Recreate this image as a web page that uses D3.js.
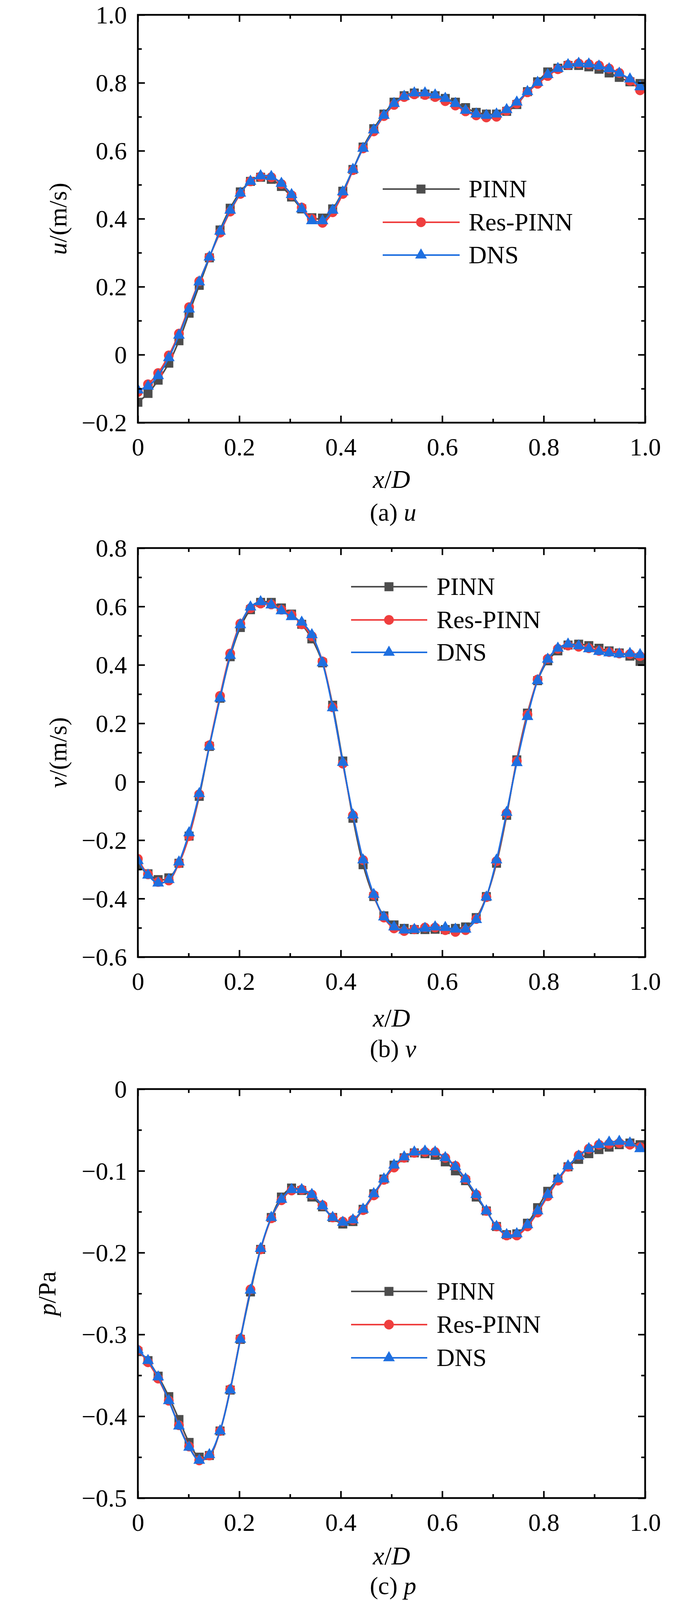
<!DOCTYPE html>
<html>
<head>
<meta charset="utf-8">
<script src="https://cdn.jsdelivr.net/npm/d3@7"></script>
<style>
  body { margin: 0; background: #fff; }
  text { font-family: 'Liberation Serif', 'Times New Roman', serif; fill: #000; }
</style>
</head>
<body>
<script>
// sample positions along x/D
const xs = [0, 0.020, 0.040, 0.061, 0.081, 0.101, 0.121, 0.141, 0.162, 0.182,
  0.202, 0.222, 0.242, 0.263, 0.283, 0.303, 0.323, 0.343, 0.364, 0.384,
  0.404, 0.424, 0.444, 0.465, 0.485, 0.505, 0.525, 0.545, 0.566, 0.586,
  0.606, 0.626, 0.646, 0.667, 0.687, 0.707, 0.727, 0.747, 0.768, 0.788,
  0.808, 0.828, 0.848, 0.869, 0.889, 0.909, 0.929, 0.949, 0.970, 0.990]

// (a) u
const uPINN = [-0.140, -0.114, -0.075, -0.025, 0.041, 0.122, 0.204, 0.285, 0.367, 0.431,
  0.479, 0.510, 0.522, 0.516, 0.495, 0.464, 0.429, 0.403, 0.402, 0.429,
  0.481, 0.545, 0.611, 0.665, 0.708, 0.743, 0.762, 0.770, 0.767, 0.762,
  0.754, 0.743, 0.727, 0.713, 0.708, 0.708, 0.716, 0.736, 0.774, 0.803,
  0.832, 0.843, 0.851, 0.851, 0.847, 0.840, 0.829, 0.816, 0.803, 0.798]
const uRes = [-0.110, -0.087, -0.054, -0.002, 0.062, 0.140, 0.216, 0.287, 0.359, 0.421,
  0.473, 0.510, 0.524, 0.522, 0.502, 0.469, 0.433, 0.400, 0.388, 0.419,
  0.473, 0.543, 0.607, 0.657, 0.702, 0.735, 0.758, 0.766, 0.764, 0.758,
  0.746, 0.733, 0.716, 0.704, 0.698, 0.700, 0.718, 0.739, 0.772, 0.797,
  0.820, 0.840, 0.853, 0.857, 0.855, 0.851, 0.842, 0.829, 0.806, 0.778]
const uDNS = [-0.104, -0.093, -0.062, -0.009, 0.057, 0.134, 0.214, 0.287, 0.363, 0.425,
  0.475, 0.510, 0.526, 0.524, 0.504, 0.471, 0.429, 0.394, 0.394, 0.425,
  0.479, 0.545, 0.607, 0.661, 0.704, 0.739, 0.760, 0.770, 0.770, 0.764,
  0.754, 0.739, 0.719, 0.708, 0.704, 0.708, 0.721, 0.743, 0.774, 0.801,
  0.824, 0.842, 0.853, 0.857, 0.855, 0.849, 0.841, 0.828, 0.811, 0.788]

// (b) v
const vPINN = [-0.285, -0.315, -0.335, -0.329, -0.279, -0.186, -0.050, 0.121, 0.286, 0.428,
  0.528, 0.589, 0.614, 0.614, 0.595, 0.574, 0.539, 0.489, 0.407, 0.262,
  0.071, -0.125, -0.284, -0.393, -0.459, -0.490, -0.502, -0.506, -0.506, -0.505,
  -0.506, -0.502, -0.497, -0.465, -0.393, -0.279, -0.115, 0.075, 0.235, 0.346,
  0.414, 0.448, 0.468, 0.471, 0.466, 0.457, 0.448, 0.441, 0.430, 0.412]
const vRes = [-0.264, -0.317, -0.343, -0.338, -0.279, -0.186, -0.043, 0.125, 0.294, 0.439,
  0.541, 0.594, 0.610, 0.607, 0.589, 0.571, 0.539, 0.498, 0.412, 0.255,
  0.062, -0.115, -0.268, -0.388, -0.465, -0.502, -0.511, -0.505, -0.499, -0.499,
  -0.508, -0.514, -0.508, -0.470, -0.395, -0.272, -0.108, 0.071, 0.230, 0.350,
  0.421, 0.455, 0.466, 0.462, 0.457, 0.448, 0.444, 0.439, 0.437, 0.430]
const vDNS = [-0.270, -0.320, -0.347, -0.335, -0.275, -0.175, -0.041, 0.121, 0.286, 0.432,
  0.537, 0.598, 0.616, 0.605, 0.585, 0.565, 0.546, 0.503, 0.407, 0.253,
  0.066, -0.114, -0.268, -0.386, -0.463, -0.497, -0.508, -0.506, -0.502, -0.497,
  -0.499, -0.505, -0.505, -0.472, -0.395, -0.268, -0.105, 0.065, 0.223, 0.346,
  0.419, 0.457, 0.471, 0.465, 0.455, 0.446, 0.441, 0.437, 0.439, 0.435]

// (c) p
const pPINN = [-0.321, -0.332, -0.351, -0.376, -0.404, -0.432, -0.450, -0.448, -0.418, -0.368,
  -0.306, -0.248, -0.196, -0.157, -0.132, -0.121, -0.124, -0.132, -0.144, -0.157,
  -0.165, -0.162, -0.147, -0.128, -0.110, -0.093, -0.084, -0.078, -0.079, -0.081,
  -0.089, -0.100, -0.112, -0.132, -0.149, -0.168, -0.178, -0.177, -0.164, -0.145,
  -0.125, -0.110, -0.095, -0.086, -0.079, -0.074, -0.071, -0.068, -0.066, -0.068]
const pRes = [-0.319, -0.334, -0.354, -0.381, -0.411, -0.437, -0.454, -0.448, -0.418, -0.367,
  -0.305, -0.245, -0.196, -0.158, -0.136, -0.124, -0.123, -0.129, -0.142, -0.157,
  -0.162, -0.160, -0.148, -0.130, -0.111, -0.096, -0.084, -0.078, -0.077, -0.077,
  -0.084, -0.094, -0.110, -0.129, -0.149, -0.168, -0.179, -0.179, -0.168, -0.151,
  -0.131, -0.112, -0.095, -0.081, -0.073, -0.068, -0.067, -0.066, -0.068, -0.071]
const pDNS = [-0.319, -0.332, -0.352, -0.381, -0.412, -0.438, -0.454, -0.447, -0.418, -0.368,
  -0.306, -0.246, -0.195, -0.157, -0.135, -0.123, -0.123, -0.129, -0.143, -0.157,
  -0.163, -0.160, -0.147, -0.128, -0.110, -0.093, -0.083, -0.077, -0.076, -0.077,
  -0.084, -0.095, -0.110, -0.129, -0.149, -0.168, -0.178, -0.177, -0.166, -0.149,
  -0.129, -0.110, -0.094, -0.082, -0.073, -0.068, -0.065, -0.064, -0.066, -0.073]

// ticks
const xTicks = [0, 0.2, 0.4, 0.6, 0.8, 1.0]
const xTickLabels = ['0', '0.2', '0.4', '0.6', '0.8', '1.0']
const xMinor = [0.1, 0.3, 0.5, 0.7, 0.9]
const uTicks = [-0.2, 0, 0.2, 0.4, 0.6, 0.8, 1.0]
const uTickLabels = ['\u22120.2', '0', '0.2', '0.4', '0.6', '0.8', '1.0']
const uMinor = [-0.1, 0.1, 0.3, 0.5, 0.7, 0.9]
const vTicks = [-0.6, -0.4, -0.2, 0, 0.2, 0.4, 0.6, 0.8]
const vTickLabels = ['\u22120.6', '\u22120.4', '\u22120.2', '0', '0.2', '0.4', '0.6', '0.8']
const vMinor = [-0.5, -0.3, -0.1, 0.1, 0.3, 0.5, 0.7]
const pTicks = [-0.5, -0.4, -0.3, -0.2, -0.1, 0]
const pTickLabels = ['\u22120.5', '\u22120.4', '\u22120.3', '\u22120.2', '\u22120.1', '0']
const pMinor = [-0.45, -0.35, -0.25, -0.15, -0.05]

const seriesNames = ['PINN', 'Res-PINN', 'DNS']
const seriesColors = ['#4d4d4d', '#ef3e3e', '#1e6fe0']
const seriesShapes = [d3.symbolSquare, d3.symbolCircle, d3.symbolTriangle]
const shapeSizes = [530, 490, 390]

const W = 1772, H = 4111
const left = 353, right = 1652
const FS = 64

const panels = [
  { id: 'a', top: 38, bottom: 1082, domain: [-0.2, 1.0], ticks: uTicks, labels: uTickLabels, minor: uMinor,
    data: [uPINN, uRes, uDNS], yName: 'u', yUnit: '/(m/s)', yTitleX: 170, xTitleDy: 167, capDy: 251,
    legend: { x0: 980, x1: 1177, mx: 1078, tx: 1200, rows: [484, 569, 653] } },
  { id: 'b', top: 1403, bottom: 2450, domain: [-0.6, 0.8], ticks: vTicks, labels: vTickLabels, minor: vMinor,
    data: [vPINN, vRes, vDNS], yName: 'v', yUnit: '/(m/s)', yTitleX: 170, xTitleDy: 178, capDy: 256,
    legend: { x0: 899, x1: 1094, mx: 996, tx: 1118, rows: [1502, 1587, 1670] } },
  { id: 'c', top: 2788, bottom: 3835, domain: [-0.5, 0], ticks: pTicks, labels: pTickLabels, minor: pMinor,
    data: [pPINN, pRes, pDNS], yName: 'p', yUnit: '/Pa', yTitleX: 142, xTitleDy: 170, capDy: 246,
    legend: { x0: 899, x1: 1094, mx: 996, tx: 1118, rows: [3306, 3391, 3476] } }
]

const svg = d3.select('body').append('svg')
  .attr('width', W).attr('height', H)
svg.append('rect').attr('width', W).attr('height', H).attr('fill', '#fff')

const x = d3.scaleLinear().domain([0, 1]).range([left, right])

panels.forEach(p => {
  const y = d3.scaleLinear().domain(p.domain).range([p.bottom, p.top])
  const g = svg.append('g').attr('class', 'panel-' + p.id)

  g.append('clipPath').attr('id', 'clip-' + p.id)
    .append('rect')
    .attr('x', left).attr('y', p.top)
    .attr('width', right - left).attr('height', p.bottom - p.top)

  const plot = g.append('g').attr('clip-path', 'url(#clip-' + p.id + ')')
  const line = d3.line()
    .x((d, i) => x(xs[i]))
    .y(d => y(d))
    .curve(d3.curveCatmullRom.alpha(0.5))

  p.data.forEach((vals, k) => {
    plot.append('path')
      .attr('d', line(vals))
      .attr('fill', 'none')
      .attr('stroke', seriesColors[k])
      .attr('stroke-width', 4)
    plot.selectAll('.m' + k)
      .data(vals)
      .enter()
      .append('path')
      .attr('class', 'm' + k)
      .attr('d', d3.symbol().type(seriesShapes[k]).size(shapeSizes[k]))
      .attr('transform', (d, i) => 'translate(' + x(xs[i]) + ',' + y(d) + ')')
      .attr('fill', seriesColors[k])
  })

  // axes, ticks pointing inward on all four sides
  const addAxis = (axis, tx, ty, showLabels) => {
    const a = g.append('g')
      .attr('transform', 'translate(' + tx + ',' + ty + ')')
      .call(axis)
    a.select('.domain').remove()
    a.selectAll('.tick line').attr('stroke', '#000').attr('stroke-width', 4)
    if (!showLabels) a.selectAll('.tick text').remove()
    return a
  }

  const yl = addAxis(d3.axisLeft(y).tickValues(p.ticks).tickSize(-18).tickPadding(28)
    .tickFormat((d, i) => p.labels[i]), left, 0, true)
  yl.selectAll('.tick text').attr('font-size', FS).attr('dy', '0.34em')
    .style('font-family', "'Liberation Serif', 'Times New Roman', serif")
  addAxis(d3.axisLeft(y).tickValues(p.minor).tickSize(-10), left, 0, false)
  addAxis(d3.axisRight(y).tickValues(p.ticks).tickSize(-18), right, 0, false)
  addAxis(d3.axisRight(y).tickValues(p.minor).tickSize(-10), right, 0, false)

  const xb = addAxis(d3.axisBottom(x).tickValues(xTicks).tickSize(-18).tickPadding(39)
    .tickFormat((d, i) => xTickLabels[i]), 0, p.bottom, true)
  xb.selectAll('.tick text').attr('font-size', FS)
    .style('font-family', "'Liberation Serif', 'Times New Roman', serif")
  addAxis(d3.axisBottom(x).tickValues(xMinor).tickSize(-10), 0, p.bottom, false)
  addAxis(d3.axisTop(x).tickValues(xTicks).tickSize(-18), 0, p.top, false)
  addAxis(d3.axisTop(x).tickValues(xMinor).tickSize(-10), 0, p.top, false)

  g.append('rect')
    .attr('x', left).attr('y', p.top)
    .attr('width', right - left).attr('height', p.bottom - p.top)
    .attr('fill', 'none').attr('stroke', '#000').attr('stroke-width', 4.5)

  // axis titles
  const cx = (left + right) / 2
  const xt = g.append('text')
    .attr('x', cx).attr('y', p.bottom + p.xTitleDy)
    .attr('text-anchor', 'middle').attr('font-size', 66)
  xt.append('tspan').attr('font-style', 'italic').text('x')
  xt.append('tspan').text('/')
  xt.append('tspan').attr('font-style', 'italic').text('D')

  const cy = (p.top + p.bottom) / 2
  const yt = g.append('text')
    .attr('transform', 'translate(' + p.yTitleX + ',' + cy + ') rotate(-90)')
    .attr('text-anchor', 'middle').attr('font-size', FS)
  yt.append('tspan').attr('font-style', 'italic').text(p.yName)
  yt.append('tspan').text(p.yUnit)

  const cap = g.append('text')
    .attr('x', cx + 4).attr('y', p.bottom + p.capDy)
    .attr('text-anchor', 'middle').attr('font-size', 64)
  cap.append('tspan').text('(' + p.id + ') ')
  cap.append('tspan').attr('font-style', 'italic').text(p.yName)

  // legend
  const lg = g.append('g').attr('class', 'legend')
  const rows = lg.selectAll('g')
    .data(seriesNames)
    .enter()
    .append('g')
    .attr('transform', (d, i) => 'translate(0,' + p.legend.rows[i] + ')')
  rows.append('line')
    .attr('x1', p.legend.x0).attr('x2', p.legend.x1)
    .attr('stroke', (d, i) => seriesColors[i]).attr('stroke-width', 4)
  rows.append('path')
    .attr('d', (d, i) => d3.symbol().type(seriesShapes[i]).size(shapeSizes[i])())
    .attr('transform', 'translate(' + p.legend.mx + ',0)')
    .attr('fill', (d, i) => seriesColors[i])
  rows.append('text')
    .attr('x', p.legend.tx).attr('y', 21)
    .attr('font-size', FS)
    .text(d => d)
})
</script>
</body>
</html>
